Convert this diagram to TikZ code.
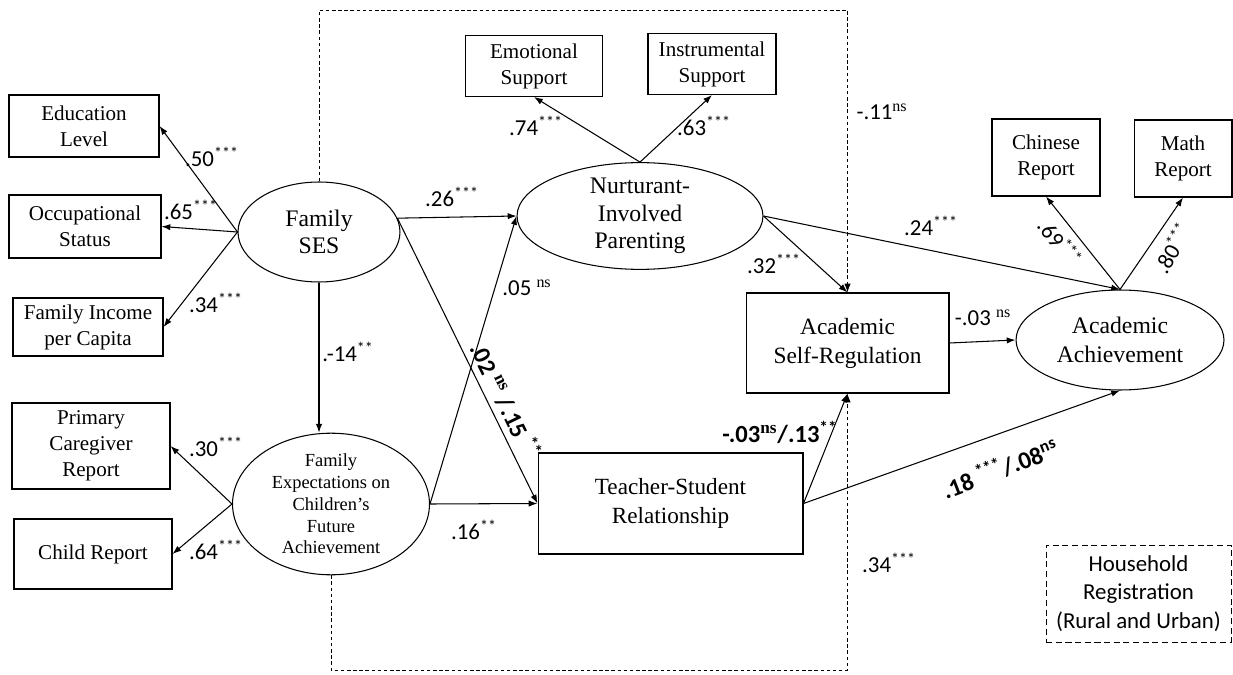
\documentclass[tikz,border=0pt]{standalone}
\usepackage{fontspec}
\setmainfont{Liberation Serif}
\newfontfamily\lblfont{Carlito}
\usetikzlibrary{shapes.geometric,arrows.meta}

\begin{document}
\begin{tikzpicture}[x=0.02cm,y=-0.02cm,line width=0.6pt,
  >={Latex[length=5pt,width=3.6pt]},
  ind/.style={draw,rectangle,align=center,inner sep=0pt,fill=white,font=\fontsize{12}{14.8}\selectfont},
  lat/.style={draw,ellipse,align=center,inner sep=0pt,fill=white,font=\fontsize{13.5}{15.6}\selectfont},
  coef/.style={font=\lblfont\fontsize{13}{15}\selectfont,inner sep=0pt},
  bcoef/.style={font=\lblfont\bfseries\fontsize{14}{16}\selectfont,inner sep=0pt},
  route/.style={dash pattern=on 2pt off 1.5pt,line width=0.5pt}]
\useasboundingbox (0,0) rectangle (1233,675);

\node[ind,minimum width=3cm,minimum height=1.24cm] (edu) at (84,126) {Education\\Level};
\node[ind,minimum width=3.04cm,minimum height=1.26cm] (occ) at (85,226.5) {Occupational\\Status};
\node[ind,minimum width=3cm,minimum height=1.16cm] (inc) at (88,327) {Family Income\\per Capita};
\node[ind,minimum width=3.16cm,minimum height=1.72cm] (pcr) at (91,446) {Primary\\Caregiver\\Report};
\node[ind,minimum width=3.16cm,minimum height=1.4cm] (chr) at (93,554) {Child Report};

\node[lat,minimum width=3.24cm,minimum height=2cm] (ses) at (319,232) {Family\\SES};
\node[lat,minimum width=3.94cm,minimum height=2.64cm,font=\fontsize{10.5}{12.4}\selectfont] (fexp) at (331,504) {Family\\Expectations on\\Children’s\\Future\\Achievement};

\node[lat,minimum width=4.92cm,minimum height=2.08cm] (nip) at (640,216) {Nurturant-\\Involved\\Parenting};
\node[ind,minimum width=2.74cm,minimum height=1.22cm] (emo) at (534,66) {Emotional\\Support};
\node[ind,minimum width=2.56cm,minimum height=1.22cm] (ins) at (712,64) {Instrumental\\Support};

\node[ind,minimum width=4.06cm,minimum height=2cm,font=\fontsize{13.3}{16.5}\selectfont] (asr) at (847.5,343) {Academic\\Self-Regulation};
\node[ind,minimum width=5.3cm,minimum height=2.02cm,font=\fontsize{13.2}{16.5}\selectfont] (tsr) at (670.5,503.5) {Teacher-Student\\Relationship};

\node[lat,minimum width=4.16cm,minimum height=2cm,font=\fontsize{13.5}{16.5}\selectfont] (ach) at (1120,340) {Academic\\Achievement};
\node[ind,minimum width=2.16cm,minimum height=1.54cm] (chn) at (1046,157.5) {Chinese\\Report};
\node[ind,minimum width=1.96cm,minimum height=1.54cm] (mth) at (1183,158.5) {Math\\Report};

\node[draw,dash pattern=on 3.5pt off 2pt,line width=0.5pt,align=center,inner sep=0pt,minimum width=3.7cm,minimum height=1.94cm,font=\lblfont\fontsize{13}{16.2}\selectfont] (hr) at (1138.5,593.5) {Household\\Registration\\(Rural and Urban)};

\coordinate (sesr) at (ses.10);

\draw[->] (ses.west) -- (edu.east);
\draw[->] (ses.west) -- (occ.east);
\draw[->] (ses.west) -- (inc.east);
\draw[->] (ses.south) -- (ses.south |- fexp.north);
\draw[->] (fexp.west) -- (pcr.east);
\draw[->] (fexp.west) -- (chr.east);
\draw[->] (sesr) -- (nip.west);
\draw[->] (sesr) -- (tsr.west);
\draw[->] (fexp.east) -- (nip.west);
\draw[->] (fexp.east) -- (tsr.west);
\draw[->] (nip.north) -- (emo.south);
\draw[->] (nip.north) -- (ins.south);
\draw[->] (nip.east) -- (asr.north);
\draw[->] (nip.east) -- (ach.north);
\draw[->] (ach.north) -- (chn.south);
\draw[->] (ach.north) -- (mth.south);
\draw[->] (asr.east) -- (ach.west);
\draw[->] (tsr.east) -- (asr.south);
\draw[->] (tsr.east) -- (ach.south);

\draw[route,->] (ses.north) -- (ses.north |- 0,10) -| (asr.north);
\draw[route,->] (fexp.south) -- (fexp.south |- 0,670) -| (asr.south);

\node[coef] (c50) at (212,157) {.50\textsuperscript{***}};
\node[coef] (c65) at (191,210) {.65\textsuperscript{***}};
\node[coef] (c34a) at (216,303) {.34\textsuperscript{***}};
\node[coef] (c14) at (348,352) {.-14\textsuperscript{**}};
\node[coef] (c30) at (216,447) {.30\textsuperscript{***}};
\node[coef] (c64) at (216,550) {.64\textsuperscript{***}};
\node[coef] (c74) at (536,126) {.74\textsuperscript{***}};
\node[coef] (c63) at (704,126) {.63\textsuperscript{***}};
\node[coef] (c26) at (452,197) {.26\textsuperscript{***}};
\node[coef] (c05) at (527,288) {.05 \textsuperscript{\rmfamily ns}};
\node[coef] (c16) at (474,530) {.16\textsuperscript{**}};
\node[coef] (c32) at (774,264) {.32\textsuperscript{***}};
\node[coef] (c24) at (931,226) {.24\textsuperscript{***}};
\node[coef] (c11) at (882,112) {-.11\textsuperscript{\rmfamily ns}};
\node[coef] (c03) at (983,318) {-.03 \textsuperscript{\rmfamily ns}};
\node[coef] (c34b) at (889,563) {.34\textsuperscript{***}};
\node[coef,rotate=-52] (c69) at (1060,242) {.69\textsuperscript{***}};
\node[coef,rotate=60] (c80) at (1172,248) {.80\textsuperscript{***}};

\node[bcoef] (d03) at (780,432) {-.03\textsuperscript{\rmfamily ns}/.13\textsuperscript{**}};
\node[bcoef,rotate=21] (d18) at (1000,468) {.18 \textsuperscript{***}/.08\textsuperscript{ns}};
\node[bcoef,rotate=-64] (d02) at (506,400) {.02 \textsuperscript{\rmfamily ns} /.15 \textsuperscript{**}};
\end{tikzpicture}
\end{document}
